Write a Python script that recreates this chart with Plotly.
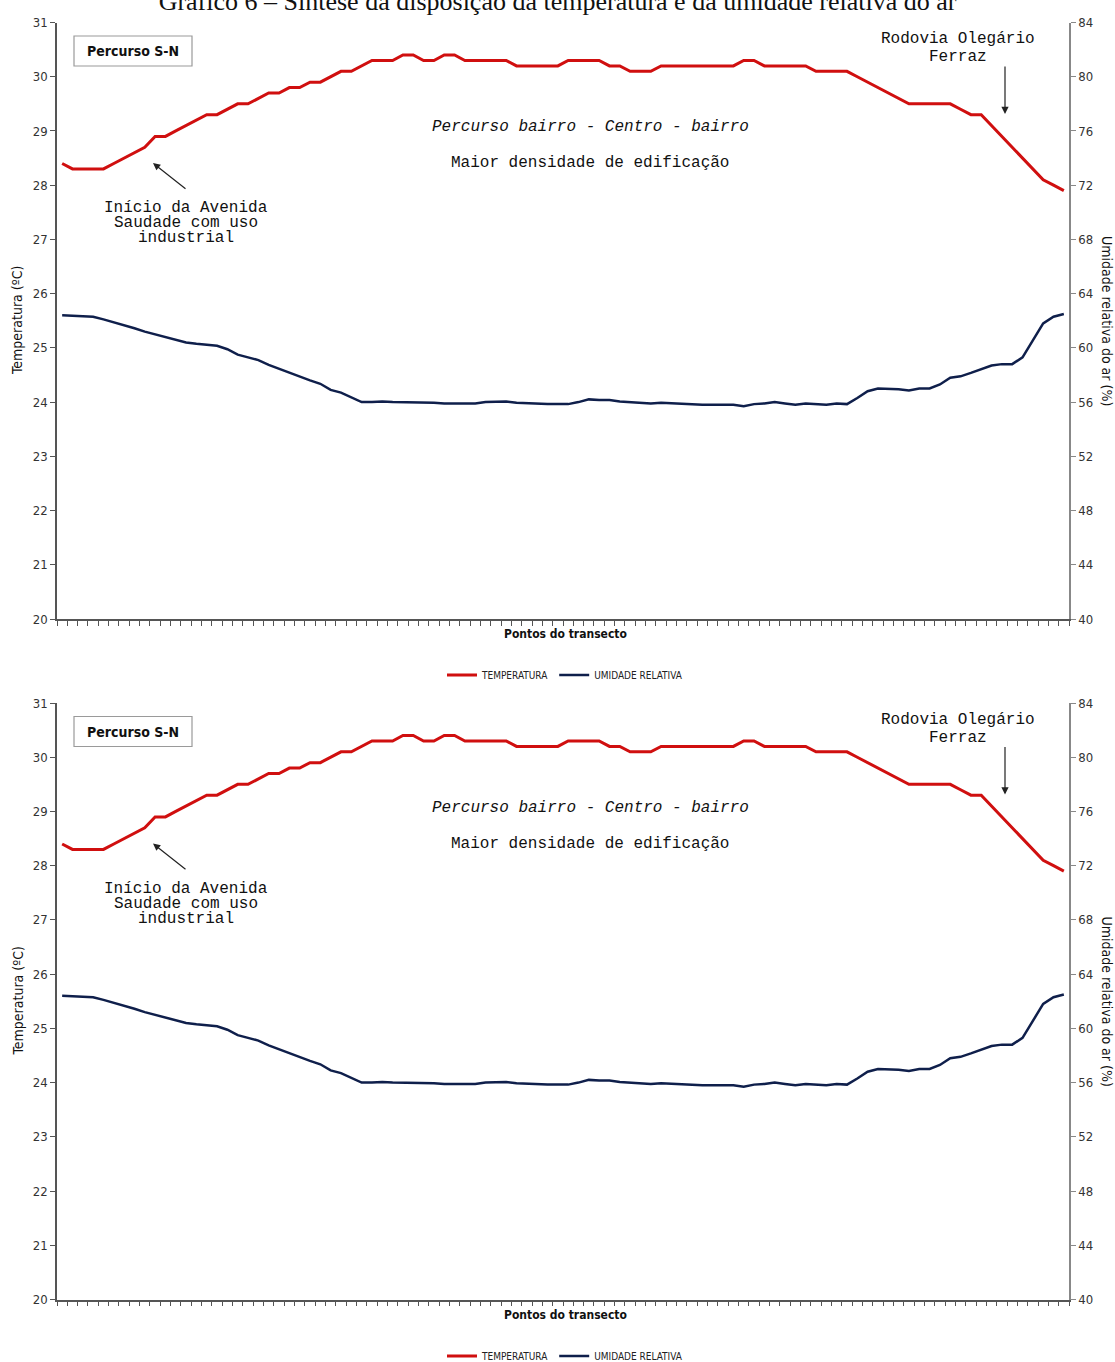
import plotly.graph_objects as go
from plotly.subplots import make_subplots

# pontos do transecto (categorias)
pontos = list(range(1, 99))

temperatura = [
    28.4, 28.3, 28.3, 28.3, 28.3, 28.4, 28.5, 28.6, 28.7, 28.9,
    28.9, 29.0, 29.1, 29.2, 29.3, 29.3, 29.4, 29.5, 29.5, 29.6,
    29.7, 29.7, 29.8, 29.8, 29.9, 29.9, 30.0, 30.1, 30.1, 30.2,
    30.3, 30.3, 30.3, 30.4, 30.4, 30.3, 30.3, 30.4, 30.4, 30.3,
    30.3, 30.3, 30.3, 30.3, 30.2, 30.2, 30.2, 30.2, 30.2, 30.3,
    30.3, 30.3, 30.3, 30.2, 30.2, 30.1, 30.1, 30.1, 30.2, 30.2,
    30.2, 30.2, 30.2, 30.2, 30.2, 30.2, 30.3, 30.3, 30.2, 30.2,
    30.2, 30.2, 30.2, 30.1, 30.1, 30.1, 30.1, 30.0, 29.9, 29.8,
    29.7, 29.6, 29.5, 29.5, 29.5, 29.5, 29.5, 29.4, 29.3, 29.3,
    29.1, 28.9, 28.7, 28.5, 28.3, 28.1, 28.0, 27.9,
]

umidade = [
    62.4, 62.35, 62.3, 62.3, 62.1, 61.9, 61.7, 61.45, 61.2, 61.0,
    60.85, 60.6, 60.4, 60.3, 60.2, 60.15, 59.9, 59.5, 59.3, 59.1,
    58.75, 58.45, 58.2, 57.9, 57.6, 57.35, 56.9, 56.7, 56.35, 56.0,
    56.0, 56.05, 56.0, 56.0, 56.0, 56.0, 55.95, 55.9, 55.9, 55.9,
    55.9, 56.0, 56.0, 56.05, 55.95, 55.9, 55.9, 55.85, 55.85, 55.85,
    56.0, 56.2, 56.15, 56.15, 56.05, 56.0, 55.95, 55.9, 55.95, 55.9,
    55.9, 55.85, 55.8, 55.8, 55.8, 55.8, 55.7, 55.85, 55.9, 56.0,
    55.9, 55.8, 55.9, 55.85, 55.8, 55.9, 55.85, 56.3, 56.8, 57.0,
    57.0, 56.95, 56.85, 57.0, 57.0, 57.3, 57.8, 57.9, 58.15, 58.4,
    58.7, 58.8, 58.8, 59.3, 60.6, 61.8, 62.3, 62.5,
]

temp_ticks = list(range(20, 32))
umid_ticks = list(range(40, 85, 4))

RED = "#d00f0f"
NAVY = "#0f1f4b"
NARROW = "Liberation Sans Narrow, DejaVu Sans Condensed, Arial Narrow, Roboto, sans-serif"
MONO = "Liberation Mono, Courier New, monospace"
SERIF = "Liberation Serif, Times New Roman, serif"

W, H = 1115, 1362
H_FIG = 1400  # a margem de baixo fica fora da janela, para a legenda de baixo caber


def px(x):
    return x / W


def py(y):
    return 1 - y / H


fig = make_subplots(rows=2, cols=1, specs=[[{"secondary_y": True}], [{"secondary_y": True}]])

panels = [
    dict(row=1, top=22.5, bottom=619, legend="legend", ax=("x", "y", "y2")),
    dict(row=2, top=703, bottom=1299.5, legend="legend2", ax=("x2", "y3", "y4")),
]

for p in panels:
    fig.add_trace(go.Scatter(x=pontos, y=temperatura, mode="lines", name="TEMPERATURA",
                             line=dict(color=RED, width=3), legend=p["legend"]),
                  row=p["row"], col=1, secondary_y=False)
    fig.add_trace(go.Scatter(x=pontos, y=umidade, mode="lines", name="UMIDADE RELATIVA",
                             line=dict(color=NAVY, width=2.5), legend=p["legend"]),
                  row=p["row"], col=1, secondary_y=True)

x_dom = [px(57), px(1069)]
tickfont = dict(family=NARROW, size=13, color="#333333")
for p in panels:
    xa, ya, ya2 = p["ax"]
    y_dom = [py(p["bottom"]), py(p["top"])]
    xkey = "xaxis" if xa == "x" else "xaxis" + xa[1:]
    fig.layout[xkey].update(domain=x_dom, range=[0.5, 98.5], tickmode="linear", tick0=0.5, dtick=1,
                            ticks="outside", ticklen=5, tickcolor="#555555", showticklabels=False,
                            showline=True, linecolor="#555555", linewidth=1.5, showgrid=False,
                            zeroline=False, automargin=False)
    ykey = "yaxis" if ya == "y" else "yaxis" + ya[1:]
    y2key = "yaxis" + ya2[1:]
    fig.layout[ykey].update(domain=y_dom, range=[20, 31], tickvals=temp_ticks, ticks="outside",
                            ticklen=5, tickcolor="#555555", tickfont=tickfont, showline=True,
                            linecolor="#555555", linewidth=1.5, showgrid=False, zeroline=False,
                            automargin=False)
    fig.layout[y2key].update(domain=y_dom, range=[40, 84], tickvals=umid_ticks, ticks="outside",
                             ticklen=5, tickcolor="#888888", tickfont=tickfont, showline=True,
                             linecolor="#888888", linewidth=1.5, showgrid=False, zeroline=False,
                             automargin=False)

annotations = []
shapes = []


def note(x, y, text, **kw):
    d = dict(x=px(x), y=py(y), xref="paper", yref="paper", text=text, showarrow=False,
             xanchor="center", yanchor="middle")
    d.update(kw)
    annotations.append(d)


mono = dict(family=MONO, size=16, color="#111111")
for dy in [0, 680.5]:
    # caixa "Percurso S-N"
    shapes.append(dict(type="rect", xref="paper", yref="paper", x0=px(74), x1=px(192),
                       y0=py(66 + dy), y1=py(36 + dy), line=dict(color="#9a9a9a", width=1.2),
                       fillcolor="white"))
    note(133, 51 + dy, "<b>Percurso S-N</b>", font=dict(family=NARROW, size=14, color="#111111"))
    note(590, 127 + dy, "<i>Percurso bairro - Centro - bairro</i>", font=mono)
    note(590, 163 + dy, "Maior densidade de edificação", font=mono)
    for i, linha in enumerate(["Início da Avenida", "Saudade com uso", "industrial"]):
        note(186, 208 + 15 * i + dy, linha, font=mono)
    for i, linha in enumerate(["Rodovia Olegário", "Ferraz"]):
        note(958, 39 + 18 * i + dy, linha, font=mono)
    # setas
    annotations.append(dict(x=px(153), y=py(163 + dy), xref="paper", yref="paper", text="",
                             showarrow=True, ax=34, ay=27, axref="pixel", ayref="pixel",
                             arrowhead=2, arrowsize=1.2, arrowwidth=1.2, arrowcolor="#222222"))
    annotations.append(dict(x=px(1005), y=py(114 + dy), xref="paper", yref="paper", text="",
                             showarrow=True, ax=0, ay=-49, axref="pixel", ayref="pixel",
                             arrowhead=2, arrowsize=1.2, arrowwidth=1.2, arrowcolor="#222222"))
    # títulos dos eixos
    note(565, 634 + dy, "<b>Pontos do transecto</b>", font=dict(family=NARROW, size=12, color="#111111"))
    note(17, 321 + dy, "Temperatura (ºC)", textangle=-90, font=dict(family=NARROW, size=14, color="#111111"))
    note(1107, 321 + dy, "Umidade relativa do ar (%)", textangle=90,
         font=dict(family=NARROW, size=14, color="#111111"))

legend_style = dict(orientation="h", xanchor="center", x=px(565), yanchor="middle",
                    font=dict(family=NARROW, size=10, color="#222222"), itemwidth=30,
                    bgcolor="rgba(0,0,0,0)", tracegroupgap=0)

fig.update_layout(
    width=W, height=H_FIG, margin=dict(l=0, r=0, t=0, b=H_FIG - H),
    plot_bgcolor="white", paper_bgcolor="white",
    title=dict(text="Gráfico 6 – Síntese da disposição da temperatura e da umidade relativa do ar",
               x=0.5, xanchor="center", xref="paper", yref="container", y=1 - 1 / H_FIG,
               yanchor="middle", automargin=False,
               font=dict(family=SERIF, size=26, color="#111111")),
    annotations=annotations, shapes=shapes,
    legend=dict(legend_style, y=py(675)),
    legend2=dict(legend_style, y=py(1356)),
    showlegend=True,
)

fig.write_html("out.html", config={"displayModeBar": False},
               post_script="document.body.style.margin='0';"
                           "document.documentElement.style.overflow='hidden';")
